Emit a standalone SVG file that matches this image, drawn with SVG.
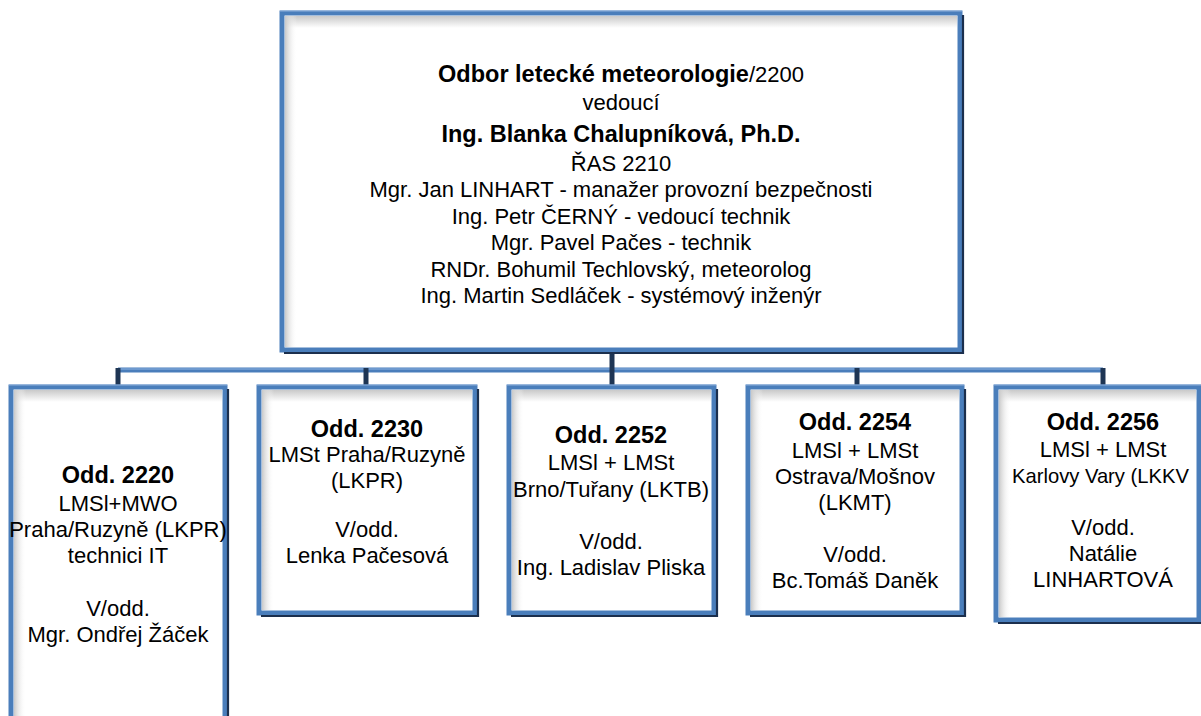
<svg xmlns="http://www.w3.org/2000/svg" width="1201" height="716" viewBox="0 0 1201 716">
<defs>
<linearGradient id="gT" x1="0" y1="0" x2="0" y2="1"><stop offset="0" stop-color="#c9c9c9"/><stop offset="1" stop-color="#ffffff"/></linearGradient>
<linearGradient id="gL" x1="0" y1="0" x2="1" y2="0"><stop offset="0" stop-color="#c9c9c9"/><stop offset="1" stop-color="#ffffff" stop-opacity="0"/></linearGradient>
<style>
.frame{fill:#ffffff;stroke:#4a7ebb;stroke-width:5}
.hl{fill:none;stroke:#8db0dc;stroke-width:1.2}
.shadow{fill:none;stroke:#1b2f4d;stroke-width:2.2}
.bar{fill:none;stroke:#4a7ebb;stroke-width:5}
.barhl{fill:none;stroke:#7aa3d6;stroke-width:1.4}
.drop{fill:none;stroke:#1e3554;stroke-width:5}
text{font-family:"Liberation Sans",Arial,sans-serif;fill:#000;text-anchor:middle}
.r{font-size:22px}
.b{font-size:23.5px;font-weight:bold}
</style>
</defs>
<g id="connectors">
<path class="bar" d="M118 370 H1103"/>
<path class="barhl" d="M118 369 H1103"/>
<path class="drop" d="M612 352 V386"/>
<path class="drop" d="M118 368 V386"/>
<path class="drop" d="M366 368 V386"/>
<path class="drop" d="M857 368 V386"/>
<path class="drop" d="M1103 368 V386"/>
</g>
<g id="top">
<rect class="frame" x="282" y="13" width="678" height="337"/>
<rect x="285" y="16" width="672" height="12" fill="url(#gT)"/>
<rect x="285" y="16" width="12" height="331" fill="url(#gL)"/>
<path class="hl" d="M280 11 H962"/>
<path class="shadow" d="M963 15 V353 H284"/>
<text x="621" y="82"><tspan class="b">Odbor letecké meteorologie</tspan><tspan class="r">/2200</tspan></text>
<text class="r" x="621" y="110">vedoucí</text>
<text class="b" x="621" y="142">Ing. Blanka Chalupníková, Ph.D.</text>
<text class="r" x="621" y="171">ŘAS 2210</text>
<text class="r" x="621" y="197">Mgr. Jan LINHART - manažer provozní bezpečnosti</text>
<text class="r" x="621" y="224">Ing. Petr ČERNÝ - vedoucí technik</text>
<text class="r" x="621" y="250">Mgr. Pavel Pačes - technik</text>
<text class="r" x="621" y="277">RNDr. Bohumil Techlovský, meteorolog</text>
<text class="r" x="621" y="303">Ing. Martin Sedláček - systémový inženýr</text>
</g>
<g id="odd2220">
<rect class="frame" x="11" y="387" width="214" height="336"/>
<rect x="14" y="390" width="208" height="12" fill="url(#gT)"/>
<rect x="14" y="390" width="12" height="330" fill="url(#gL)"/>
<path class="hl" d="M9 385 H227"/>
<path class="shadow" d="M228 389 V726"/>
<text class="b" x="118" y="483">Odd. 2220</text>
<text class="r" x="118" y="511">LMSl+MWO</text>
<text class="r" x="118" y="537">Praha/Ruzyně (LKPR)</text>
<text class="r" x="118" y="563">technici IT</text>
<text class="r" x="118" y="616">V/odd.</text>
<text class="r" x="118" y="642">Mgr. Ondřej Žáček</text>
</g>
<g id="odd2230">
<rect class="frame" x="259" y="387" width="216" height="226"/>
<rect x="262" y="390" width="210" height="12" fill="url(#gT)"/>
<rect x="262" y="390" width="12" height="220" fill="url(#gL)"/>
<path class="hl" d="M257 385 H477"/>
<path class="shadow" d="M478 389 V616 H261"/>
<text class="b" x="367" y="437">Odd. 2230</text>
<text class="r" x="367" y="462">LMSt Praha/Ruzyně</text>
<text class="r" x="367" y="488">(LKPR)</text>
<text class="r" x="367" y="537">V/odd.</text>
<text class="r" x="367" y="563">Lenka Pačesová</text>
</g>
<g id="odd2252">
<rect class="frame" x="509" y="387" width="205" height="226"/>
<rect x="512" y="390" width="199" height="12" fill="url(#gT)"/>
<rect x="512" y="390" width="12" height="220" fill="url(#gL)"/>
<path class="hl" d="M507 385 H716"/>
<path class="shadow" d="M717 389 V616 H511"/>
<text class="b" x="611" y="443">Odd. 2252</text>
<text class="r" x="611" y="470">LMSl + LMSt</text>
<text class="r" x="611" y="497">Brno/Tuřany (LKTB)</text>
<text class="r" x="611" y="549">V/odd.</text>
<text class="r" x="611" y="575">Ing. Ladislav Pliska</text>
</g>
<g id="odd2254">
<rect class="frame" x="748" y="387" width="214" height="226"/>
<rect x="751" y="390" width="208" height="12" fill="url(#gT)"/>
<rect x="751" y="390" width="12" height="220" fill="url(#gL)"/>
<path class="hl" d="M746 385 H964"/>
<path class="shadow" d="M965 389 V616 H750"/>
<text class="b" x="855" y="430">Odd. 2254</text>
<text class="r" x="855" y="458">LMSl + LMSt</text>
<text class="r" x="855" y="484">Ostrava/Mošnov</text>
<text class="r" x="855" y="510">(LKMT)</text>
<text class="r" x="855" y="562">V/odd.</text>
<text class="r" x="855" y="588">Bc.Tomáš Daněk</text>
</g>
<g id="odd2256">
<rect class="frame" x="996" y="387" width="203" height="233"/>
<rect x="999" y="390" width="197" height="12" fill="url(#gT)"/>
<rect x="999" y="390" width="12" height="227" fill="url(#gL)"/>
<path class="hl" d="M994 385 H1201"/>
<path class="shadow" d="M1201 623 H998"/>
<text class="b" x="1103" y="430">Odd. 2256</text>
<text class="r" x="1103" y="457">LMSl + LMSt</text>
<text x="1012" y="483" style="text-anchor:start;font-size:20.2px">Karlovy Vary (LKKV</text>
<text class="r" x="1103" y="535">V/odd.</text>
<text class="r" x="1103" y="561">Natálie</text>
<text class="r" x="1103" y="587">LINHARTOVÁ</text>
</g>
</svg>
